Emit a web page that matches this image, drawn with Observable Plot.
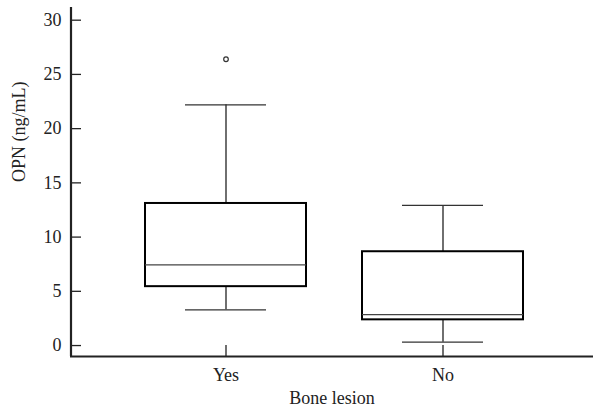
<!DOCTYPE html>
<html>
<head>
<meta charset="utf-8">
<script src="https://cdn.jsdelivr.net/npm/d3@7"></script>
<script src="https://cdn.jsdelivr.net/npm/@observablehq/plot@0.6"></script>
<style>
  html, body { margin: 0; padding: 0; background: #fff; }
  #chart svg { display: block; }
</style>
</head>
<body>
<div id="chart"></div>
<script>
// Data
const categories = ["Yes", "No"];
const whiskerLow = [3.29, 0.31];
const q1 = [5.43, 2.37];
const medians = [7.43, 2.85];
const q3 = [13.1, 8.65];
const whiskerHigh = [22.2, 12.92];
const outlierGroups = ["Yes"];
const outlierValues = [26.4];
const yTicks = [0, 5, 10, 15, 20, 25, 30];
const yDomain = [-1.01, 31.17];
const xLabel = "Bone lesion";
const yLabel = "OPN (ng/mL)";

const boxes = categories.map((c, i) => ({
  group: c, lo: whiskerLow[i], q1: q1[i], med: medians[i], q3: q3[i], hi: whiskerHigh[i]
}));
const outliers = outlierGroups.map((g, i) => ({group: g, value: outlierValues[i]}));

const W = 593, H = 417;
const mL = 70, mR = 0, mT = 7, mB = 61;
const frameW = W - mL - mR, frameH = H - mT - mB;
const tickLen = 11;
const serif = "'Liberation Serif', 'Times New Roman', serif";

const chart = Plot.plot({
  width: W,
  height: H,
  marginLeft: mL,
  marginRight: mR,
  marginTop: mT,
  marginBottom: mB,
  style: {fontFamily: serif, fontSize: "18px", color: "#222", background: "#fff"},
  x: {type: "band", domain: categories, paddingInner: 0.256, paddingOuter: 0.329, align: 0.516},
  y: {domain: yDomain},
  marks: [
    // tick labels
    Plot.axisY({ticks: yTicks, tickSize: 0, tickPadding: 9, label: null, fontSize: 18, fontFamily: serif, fill: "#222"}),
    Plot.axisX({tickSize: 0, tickPadding: 12, label: null, fontSize: 18, fontFamily: serif, fill: "#222"}),
    // inward axis ticks
    Plot.tickY(yTicks, {y: d => d, insetRight: frameW - tickLen, stroke: "#222", strokeWidth: 1.3}),
    Plot.tickX(categories, {x: d => d, insetTop: frameH - tickLen, stroke: "#222", strokeWidth: 1.3}),
    // whiskers
    Plot.ruleX(boxes, {x: "group", y1: "lo", y2: "q1", stroke: "#222", strokeWidth: 1.3}),
    Plot.ruleX(boxes, {x: "group", y1: "q3", y2: "hi", stroke: "#222", strokeWidth: 1.3}),
    Plot.tickY(boxes, {x: "group", y: "lo", insetLeft: 40, insetRight: 40, stroke: "#333", strokeWidth: 1.3}),
    Plot.tickY(boxes, {x: "group", y: "hi", insetLeft: 40, insetRight: 40, stroke: "#333", strokeWidth: 1.3}),
    // boxes
    Plot.barY(boxes, {x: "group", y1: "q1", y2: "q3", fill: "white", stroke: "#000", strokeWidth: 2}),
    Plot.tickY(boxes, {x: "group", y: "med", stroke: "#444", strokeWidth: 1.2}),
    // outliers
    Plot.dot(outliers, {x: "group", y: "value", r: 2.3, stroke: "#333", strokeWidth: 1.2, fill: "none"}),
    // axis titles
    Plot.text([yLabel], {text: d => d, frameAnchor: "left", rotate: -90, dx: -51, fontSize: 18, fontFamily: serif, fill: "#222"}),
    Plot.text([xLabel], {text: d => d, frameAnchor: "bottom", dy: 47, fontSize: 18, fontFamily: serif, fill: "#222"}),
    // axis lines (drawn last)
    Plot.ruleY([yDomain[0]], {stroke: "#222", strokeWidth: 2.2}),
    Plot.ruleX([0], {x: null, y1: yDomain[0], y2: yDomain[1], dx: -frameW / 2 + 0.5, stroke: "#222", strokeWidth: 2.2})
  ]
});
document.getElementById("chart").appendChild(chart);
</script>
</body>
</html>
